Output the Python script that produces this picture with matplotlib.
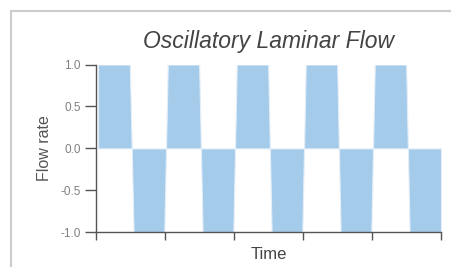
import matplotlib
matplotlib.use("Agg")
import matplotlib.pyplot as plt
from matplotlib.lines import Line2D

# Data (time in periods, flow rate)
time = [0.03, 0.49, 0.545, 0.99, 1.04, 1.495, 1.545, 1.99, 2.04, 2.495, 2.545,
        2.99, 3.04, 3.495, 3.545, 3.99, 4.04, 4.495, 4.545, 5.0]
flow = [1, 1, -1, -1, 1, 1, -1, -1, 1, 1, -1,
        -1, 1, 1, -1, -1, 1, 1, -1, -1]
y_ticks = [-1.0, -0.5, 0.0, 0.5, 1.0]
y_tick_labels = ["-1.0", "-0.5", "0.0", "0.5", "1.0"]
x_ticks = [0, 1, 2, 3, 4, 5]

plt.rcParams['font.family'] = ['Liberation Sans', 'DejaVu Sans']

W, H = 451, 267
fig = plt.figure(figsize=(W / 100, H / 100), dpi=100)
fig.patch.set_facecolor('white')

ax = fig.add_axes([96 / W, 1 - 232.3 / H, (441 - 96) / W, (232.3 - 64.5) / H])
ax.fill_between(time, flow, 0, facecolor='#a5cbea', edgecolor='#e3eef8',
                linewidth=0.8)
ax.set_xlim(0, 5)
ax.set_ylim(-1, 1)

for s in ['top', 'right']:
    ax.spines[s].set_visible(False)
for s in ['left', 'bottom']:
    ax.spines[s].set_color('#555555')
    ax.spines[s].set_linewidth(1.0)

ax.set_yticks(y_ticks)
ax.set_yticklabels(y_tick_labels)
ax.set_xticks(x_ticks)
ax.set_xticklabels([])
ax.tick_params(axis='y', direction='out', length=8, width=1.0, color='#555555',
               labelsize=8.5, labelcolor='#808080', pad=3)
ax.tick_params(axis='x', direction='out', length=6, width=1.0, color='#555555')

ax.set_xlabel('Time', fontsize=12, color='#444444', labelpad=1)
ax.set_ylabel('Flow rate', fontsize=11.5, color='#555555', labelpad=6)
ax.set_title('Oscillatory Laminar Flow', fontsize=16.5, style='italic',
             color='#444444', pad=12)

# light grey frame
fig.add_artist(Line2D([11 / W, 11 / W, 1.0], [0.0, 1 - 11 / H, 1 - 11 / H],
                      transform=fig.transFigure, color='#cccccc', linewidth=1.5))

fig.savefig('out.png', dpi=100)
